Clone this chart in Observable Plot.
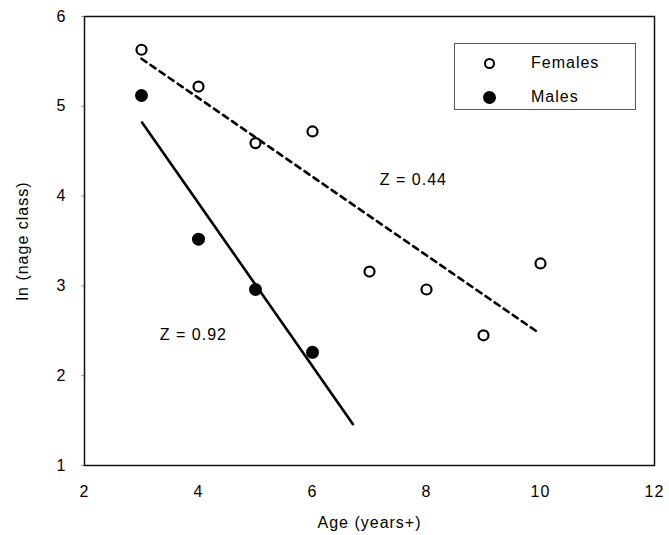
<!DOCTYPE html>
<html>
<head>
<meta charset="utf-8">
<script src="https://cdn.jsdelivr.net/npm/d3@7"></script>
<script src="https://cdn.jsdelivr.net/npm/@observablehq/plot@0.6"></script>
<style>
  body { margin: 0; background: #fff; }
  #wrap { position: relative; width: 669px; height: 535px; font-family: "Liberation Sans", Arial, sans-serif; }
  #legend { position: absolute; left: 454px; top: 43px; width: 182px; height: 67px; border: 1px solid #555; box-sizing: border-box; background: #fff; font-size: 16px; letter-spacing: 1px; }
  .row { position: absolute; left: 0; height: 20px; display: flex; align-items: center; }
  .sym { width: 11px; height: 11px; border-radius: 50%; box-sizing: border-box; margin-left: 29px; margin-right: 36px; }
</style>
</head>
<body>
<div id="wrap"></div>
<script>
// Ages (years+)
const femaleAge = [3, 4, 5, 6, 7, 8, 9, 10];
const femaleLn  = [5.63, 5.22, 4.59, 4.72, 3.16, 2.96, 2.45, 3.25];
const maleAge   = [3, 4, 5, 6];
const maleLn    = [5.12, 3.52, 2.96, 2.26];
// Fitted catch-curve lines (endpoints as drawn)
const femaleFitAge = [3.0, 9.94];
const femaleFitLn  = [5.53, 2.49];
const maleFitAge   = [3.01, 6.71];
const maleFitLn    = [4.82, 1.46];
// Annotations
const noteText = ["Z = 0.44", "Z = 0.92"];
const noteAge  = [7.77, 3.91];
const noteLn   = [4.18, 2.45];
const xTicks = [2, 4, 6, 8, 10, 12];
const yTicks = [1, 2, 3, 4, 5, 6];
const seriesNames = ["Females", "Males"];

const females = femaleAge.map((a, i) => ({age: a, ln: femaleLn[i]}));
const males = maleAge.map((a, i) => ({age: a, ln: maleLn[i]}));
const femaleFit = femaleFitAge.map((a, i) => ({age: a, ln: femaleFitLn[i]}));
const maleFit = maleFitAge.map((a, i) => ({age: a, ln: maleFitLn[i]}));
const notes = noteText.map((t, i) => ({t, age: noteAge[i], ln: noteLn[i]}));

const chart = Plot.plot({
  width: 669,
  height: 535,
  marginLeft: 84,
  marginRight: 15,
  marginTop: 16,
  marginBottom: 70,
  style: {fontFamily: '"Liberation Sans", Arial, sans-serif', fontSize: "16px", letterSpacing: "1px", background: "#fff", color: "#000"},
  x: {domain: [2, 12]},
  y: {domain: [1, 6]},
  marks: [
    Plot.axisX({ticks: xTicks, tickFormat: d3.format("d"), tickSize: 0, tickPadding: 20, label: "Age (years+)", labelAnchor: "center", labelArrow: "none", labelOffset: 62, fontSize: 16}),
    Plot.axisY({ticks: yTicks, tickFormat: d3.format("d"), tickSize: 3, stroke: "#999", tickPadding: 15, label: "ln (nage class)", labelAnchor: "center", labelArrow: "none", labelOffset: 68, fontSize: 16}),
    Plot.frame({stroke: "#111", strokeWidth: 1.5}),
    Plot.line(femaleFit, {x: "age", y: "ln", stroke: "#000", strokeWidth: 2.6, strokeDasharray: "6,5"}),
    Plot.line(maleFit, {x: "age", y: "ln", stroke: "#000", strokeWidth: 2.6}),
    Plot.dot(females, {x: "age", y: "ln", r: 5, stroke: "#000", strokeWidth: 2.2, fill: "#fff"}),
    Plot.dot(males, {x: "age", y: "ln", r: 6.5, fill: "#000", stroke: "none"}),
    Plot.text(notes, {x: "age", y: "ln", text: "t", fontSize: 16, fill: "#000"})
  ]
});

const wrap = document.getElementById("wrap");
wrap.appendChild(chart);

const legend = document.createElement("div");
legend.id = "legend";
const styles = [
  {border: "2.2px solid #000", background: "#fff", top: 9},
  {border: "none", background: "#000", top: 43}
];
seriesNames.forEach((name, i) => {
  const row = document.createElement("div");
  row.className = "row";
  row.style.top = (styles[i].top) + "px";
  const s = document.createElement("div");
  s.className = "sym";
  s.style.border = styles[i].border;
  s.style.background = styles[i].background;
  if (i === 1) { s.style.width = "13px"; s.style.height = "13px"; s.style.marginLeft = "28px"; s.style.marginRight = "35px"; }
  const t = document.createElement("span");
  t.textContent = name;
  row.appendChild(s);
  row.appendChild(t);
  legend.appendChild(row);
});
wrap.appendChild(legend);
</script>
</body>
</html>
